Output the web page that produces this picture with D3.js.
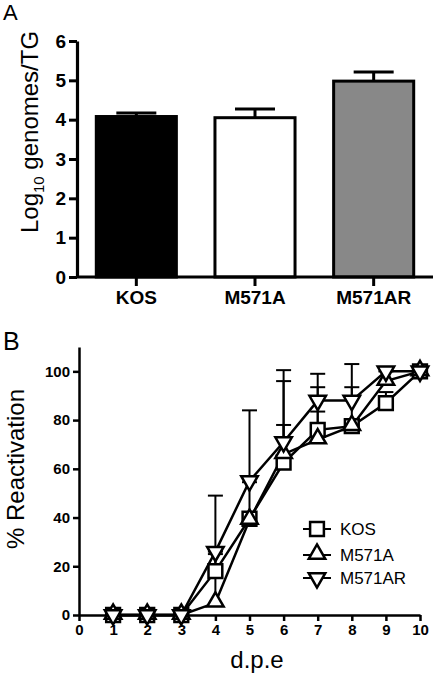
<!DOCTYPE html>
<html><head><meta charset="utf-8">
<script src="https://cdn.jsdelivr.net/npm/d3@7"></script>
<style>
html,body{margin:0;padding:0;background:#fff;}
text{font-family:"Liberation Sans",Arial,sans-serif;}
</style></head>
<body>
<svg id="c" width="434" height="678"></svg>
<script>
// Panel A data
const catsA = ["KOS", "M571A", "M571AR"];
const valsA = [4.08, 4.05, 4.98];
const errA = [0.09, 0.22, 0.23];
const fillsA = ["#000000", "#ffffff", "#888888"];
const ticksA = [0, 1, 2, 3, 4, 5, 6];

// Panel B data
const days = [1, 2, 3, 4, 5, 6, 7, 8, 9, 10];
const kos = [0, 0, 0, 18, 39.5, 62.5, 76, 77.5, 87, 100];
const m571a = [0, 0, 0, 5, 39, 66, 72, 77.5, 96, 100];
const m571ar = [0, 0, 0, 26, 55, 71, 88, 88, 100, 100];
const kosErr = [0, 0, 0, 8, 15, 33.5, 7.5, 16, 4.5, 0];
const m571aErr = [0, 0, 0, 20, 0, 34.5, 21.5, 0, 4, 0];
const m571arErr = [0, 0, 0, 23, 29, 7, 11, 15, 0, 0];
const seriesNames = ["KOS", "M571A", "M571AR"];
const xTicksB = [0, 1, 2, 3, 4, 5, 6, 7, 8, 9, 10];
const yTicksB = [0, 20, 40, 60, 80, 100];

const svg = d3.select("#c");

// ---------- Panel A ----------
const gA = svg.append("g");
const xA = d3.scaleBand().domain(catsA).range([77, 433]).paddingInner(0.3).paddingOuter(0.15);
const yA = d3.scaleLinear().domain([0, 6]).range([277, 41]);

gA.selectAll("rect.bar").data(catsA).join("rect")
  .attr("x", d => xA(d) + 1.5)
  .attr("y", (d, i) => yA(valsA[i]))
  .attr("width", xA.bandwidth() - 3)
  .attr("height", (d, i) => yA(0) - yA(valsA[i]))
  .attr("fill", (d, i) => fillsA[i])
  .attr("stroke", "#000").attr("stroke-width", 3);

catsA.forEach((c, i) => {
  const cx = xA(c) + xA.bandwidth() / 2;
  gA.append("line").attr("x1", cx).attr("x2", cx)
    .attr("y1", yA(valsA[i])).attr("y2", yA(valsA[i] + errA[i]))
    .attr("stroke", "#000").attr("stroke-width", 3);
  gA.append("line").attr("x1", cx - 20).attr("x2", cx + 20)
    .attr("y1", yA(valsA[i] + errA[i])).attr("y2", yA(valsA[i] + errA[i]))
    .attr("stroke", "#000").attr("stroke-width", 3);
});

const axA = gA.append("g").attr("transform", "translate(77,0)")
  .call(d3.axisLeft(yA).tickValues(ticksA).tickFormat(d3.format("d")).tickSize(8).tickSizeOuter(0).tickPadding(3));
const axAx = gA.append("g").attr("transform", "translate(0,277)")
  .call(d3.axisBottom(xA).tickSize(9).tickSizeOuter(0).tickPadding(5));
[axA, axAx].forEach(a => {
  a.select(".domain").attr("stroke-width", 3.2);
  a.selectAll(".tick line").attr("stroke-width", 3);
  a.selectAll("text").attr("font-size", 19).attr("font-weight", "bold").attr("fill", "#000");
});
axAx.select(".domain").attr("d", "M77,0H433");

const labA = gA.append("text").attr("transform", "translate(38,132) rotate(-90)")
  .attr("text-anchor", "middle").attr("font-size", 24).attr("fill", "#000");
labA.append("tspan").text("Log");
labA.append("tspan").attr("font-size", 15).attr("dy", 6).text("10");
labA.append("tspan").attr("dy", -6).text(" genomes/TG");

svg.append("text").attr("x", 3).attr("y", 20).attr("font-size", 22).text("A");

// ---------- Panel B ----------
const gB = svg.append("g");
const xB = d3.scaleLinear().domain([0, 10]).range([79, 420]);
const yB = d3.scaleLinear().domain([0, 110]).range([615, 347]);

const series = [
  { name: "KOS", vals: kos, err: kosErr, sym: "square" },
  { name: "M571A", vals: m571a, err: m571aErr, sym: "up" },
  { name: "M571AR", vals: m571ar, err: m571arErr, sym: "down" }
];

function symPath(type) {
  if (type === "square") return d3.symbol(d3.symbolSquare, 190)();
  return d3.symbol(d3.symbolTriangle, 118)();
}
function symTransform(type, x, y) {
  if (type === "down") return `translate(${x},${y}) rotate(180)`;
  if (type === "up") return `translate(${x},${y - 1})`;
  return `translate(${x},${y})`;
}

series.forEach(s => {
  days.forEach((d, i) => {
    if (s.err[i] <= 0) return;
    const cx = xB(d), y0 = yB(s.vals[i]), y1 = yB(s.vals[i] + s.err[i]);
    gB.append("line").attr("x1", cx).attr("x2", cx).attr("y1", y0).attr("y2", y1)
      .attr("stroke", "#000").attr("stroke-width", 2);
    gB.append("line").attr("x1", cx - 7.5).attr("x2", cx + 7.5).attr("y1", y1).attr("y2", y1)
      .attr("stroke", "#000").attr("stroke-width", 2);
  });
});

const axBy = gB.append("g").attr("transform", "translate(79,0)")
  .call(d3.axisLeft(yB).tickValues(yTicksB).tickSize(6).tickSizeOuter(0).tickPadding(3));
const axBx = gB.append("g").attr("transform", "translate(0,615)")
  .call(d3.axisBottom(xB).tickValues(xTicksB).tickSize(6).tickSizeOuter(0).tickPadding(3));
[axBy, axBx].forEach(a => {
  a.select(".domain").attr("stroke-width", 2.5);
  a.selectAll(".tick line").attr("stroke-width", 2.5);
  a.selectAll("text").attr("font-size", 15).attr("font-weight", "bold").attr("fill", "#000");
});

const line = d3.line().x((d, i) => xB(days[i])).y(d => yB(d));
series.forEach(s => {
  gB.append("path").datum(s.vals).attr("d", line)
    .attr("fill", "none").attr("stroke", "#000").attr("stroke-width", 2.5);
});
series.forEach(s => {
  gB.selectAll(null).data(s.vals).join("path")
    .attr("d", symPath(s.sym))
    .attr("transform", (d, i) => symTransform(s.sym, xB(days[i]), yB(d)))
    .attr("fill", "#fff").attr("stroke", "#000").attr("stroke-width", 2.5);
});

const legY = [529, 555, 578];
series.forEach((s, i) => {
  gB.append("line").attr("x1", 303).attr("x2", 331).attr("y1", legY[i]).attr("y2", legY[i])
    .attr("stroke", "#000").attr("stroke-width", 2);
  gB.append("path").attr("d", symPath(s.sym))
    .attr("transform", symTransform(s.sym, 317, legY[i]))
    .attr("fill", "#fff").attr("stroke", "#000").attr("stroke-width", 2.5);
  gB.append("text").attr("x", 340).attr("y", legY[i]).attr("dy", "0.36em")
    .attr("font-size", 17).attr("fill", "#000").text(s.name);
});

gB.append("text").attr("transform", "translate(24,469) rotate(-90)")
  .attr("text-anchor", "middle").attr("font-size", 24).attr("fill", "#000").text("% Reactivation");
gB.append("text").attr("x", 257).attr("y", 668).attr("text-anchor", "middle")
  .attr("font-size", 24).attr("fill", "#000").text("d.p.e");
svg.append("text").attr("x", 3).attr("y", 350).attr("font-size", 25).text("B");
</script>
</body></html>
